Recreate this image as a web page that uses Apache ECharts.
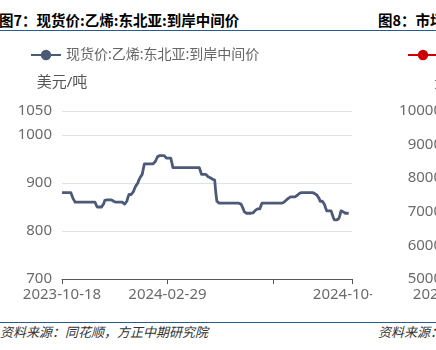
<!DOCTYPE html>
<html>
<head>
<meta charset="utf-8">
<script src="https://cdn.jsdelivr.net/npm/echarts@6/dist/echarts.min.js"></script>
<style>
  html, body { margin: 0; padding: 0; width: 436px; height: 350px; overflow: hidden; background: #fff; }
  #wrap { position: relative; width: 436px; height: 350px; overflow: hidden; font-family: "Noto Sans CJK SC", "Noto Sans", sans-serif; }
  .title { position: absolute; top: 11px; font-size: 14.5px; line-height: 18px; font-weight: bold; color: #000; white-space: nowrap; }
  .rule { position: absolute; left: 0; width: 436px; height: 0; border-top: 1.5px solid #2a5a8c; }
  .src { position: absolute; top: 323px; font-size: 13px; line-height: 18px; font-style: italic; color: #333; white-space: nowrap; }
  #c1 { position: absolute; left: 0; top: 0; width: 372px; height: 350px; }
  #c2 { position: absolute; left: 375px; top: 0; width: 440px; height: 350px; }
</style>
</head>
<body>
<div id="wrap">
  <div class="title" style="left:-1px">图7：现货价:乙烯:东北亚:到岸中间价</div>
  <div class="title" style="left:378px">图8：市场价:乙烯:华东地区</div>
  <div class="rule" style="top:30px"></div>
  <div class="rule" style="top:322px"></div>
  <div class="src" style="left:0px">资料来源：同花顺，方正中期研究院</div>
  <div class="src" style="left:378px">资料来源：同花顺，方正中期研究院</div>
  <div id="c1"></div>
  <div id="c2"></div>
</div>
<script>
// ---- Data (chart 7) ----
const seriesName = '现货价:乙烯:东北亚:到岸中间价';
const yAxisName = '美元/吨';
const yMin = 700, yMax = 1050, yInterval = 100;
// weekday dates from 2023-10-18 (265 trading days)
const startDate = '2023-10-18';
const dayCount = 265;
const labelIndices = [0, 96, 264];
const tickIndices = [0, 96, 192, 264];
const prices = [
  880,880,880,880,880,880,880,880,880,874,
  868,865,860,860,860,860,860,860,860,860,
  860,860,860,860,860,860,860,860,860,860,
  860,856,850,850,850,850,850,850,857,864,
  865,865,865,865,865,865,865,862,860,860,
  860,860,860,860,860,860,858,856,855,862,
  870,876,876,876,876,882,888,893,897,900,
  906,911,915,918,921,940,940,940,940,940,
  940,940,940,940,940,945,950,955,957,957,
  957,957,957,957,955,952,952,952,952,952,
  952,932,932,932,932,932,932,932,932,932,
  932,932,932,932,932,932,932,932,932,932,
  932,932,932,932,932,932,925,918,918,918,
  918,918,915,913,912,911,910,908,906,906,
  880,862,862,858,858,858,858,858,858,858,
  858,858,858,858,858,858,858,858,858,858,
  858,858,858,856,852,846,840,837,837,837,
  837,837,837,837,838,840,843,846,846,846,
  846,846,858,858,858,858,858,858,858,858,
  858,858,858,858,858,858,858,858,858,858,
  858,858,860,862,864,866,868,869,871,871,
  871,871,871,871,874,876,878,880,880,880,
  880,880,880,880,880,880,880,880,880,879,
  878,875,875,875,868,862,862,862,862,855,
  848,842,842,842,842,842,835,828,823,823,
  823,823,826,833,842,842,840,837,837,837,
  837,837,null,null,null
];

// ---- Data (chart 8, only its left edge is visible) ----
const series2Name = '市场价:乙烯:华东地区';
const y2AxisName = '元/吨';
const y2Min = 5000, y2Max = 10000, y2Interval = 1000;
const dates2 = ['2021-10-18', '2022-06-01', '2023-02-01', '2023-10-01', '2024-06-01'];

function weekdayDates(start, n) {
  const out = [];
  const d = new Date(start + 'T00:00:00Z');
  while (out.length < n) {
    const wd = d.getUTCDay();
    if (wd !== 0 && wd !== 6) out.push(d.toISOString().slice(0, 10));
    d.setUTCDate(d.getUTCDate() + 1);
  }
  return out;
}
const dates = weekdayDates(startDate, dayCount);

const FONT = '"Noto Sans", "Noto Sans CJK SC", sans-serif';
const lineColor = '#4c5a78';
const red = '#cc0000';
const plain = (v) => String(v);

const c1 = echarts.init(document.getElementById('c1'), null, { renderer: 'canvas' });
c1.setOption({
  animation: false,
  legend: {
    left: 25, top: 43, itemWidth: 30, itemHeight: 13, itemGap: 10,
    textStyle: { color: '#666', fontSize: 14, fontFamily: FONT },
    data: [seriesName]
  },
  grid: { left: 62, right: 20, top: 111, bottom: 71, containLabel: false, outerBoundsMode: 'none' },
  xAxis: {
    type: 'category', data: dates, boundaryGap: false,
    axisLine: { lineStyle: { color: '#555', width: 1 } },
    axisTick: { show: true, length: 5, lineStyle: { color: '#555' }, interval: (i) => tickIndices.includes(i) },
    axisLabel: { color: '#6b6b6b', fontSize: 15, fontFamily: FONT, margin: 8, interval: (i) => labelIndices.includes(i), showMinLabel: true, showMaxLabel: true },
    splitLine: { show: false }
  },
  yAxis: {
    type: 'value', min: yMin, max: yMax, interval: yInterval,
    name: yAxisName, nameLocation: 'end', nameGap: 21,
    nameTextStyle: { color: '#555', fontSize: 15, fontFamily: FONT, align: 'center' },
    axisLine: { show: false }, axisTick: { show: false },
    axisLabel: { color: '#6b6b6b', fontSize: 15, fontFamily: FONT, margin: 10, formatter: plain },
    splitLine: { lineStyle: { color: '#dde2ec', width: 1.2 } }
  },
  series: [{
    name: seriesName, type: 'line', data: prices,
    symbol: 'circle', symbolSize: 10, showSymbol: false,
    lineStyle: { color: lineColor, width: 2.8, join: 'round' },
    itemStyle: { color: lineColor },
    connectNulls: false
  }]
});

const c2 = echarts.init(document.getElementById('c2'), null, { renderer: 'canvas' });
c2.setOption({
  animation: false,
  legend: {
    left: 27, top: 43, itemWidth: 30, itemHeight: 13,
    textStyle: { color: '#666', fontSize: 14, fontFamily: FONT },
    data: [series2Name]
  },
  grid: { left: 77, right: 20, top: 111, bottom: 71, containLabel: false, outerBoundsMode: 'none' },
  xAxis: {
    type: 'category', data: dates2, boundaryGap: false,
    axisLine: { lineStyle: { color: '#555' } },
    axisTick: { length: 5 },
    axisLabel: { color: '#6b6b6b', fontSize: 15, fontFamily: FONT, margin: 8 }
  },
  yAxis: {
    type: 'value', min: y2Min, max: y2Max, interval: y2Interval,
    name: y2AxisName, nameGap: 21,
    nameTextStyle: { color: '#555', fontSize: 15, fontFamily: FONT, align: 'center' },
    axisLine: { show: false }, axisTick: { show: false },
    axisLabel: { color: '#6b6b6b', fontSize: 15, fontFamily: FONT, margin: 10, formatter: plain },
    splitLine: { lineStyle: { color: '#dde2ec' } }
  },
  series: [{
    name: series2Name, type: 'line', data: [],
    symbol: 'circle', symbolSize: 10, showSymbol: false,
    lineStyle: { color: red, width: 2.8 }, itemStyle: { color: red }
  }]
});
</script>
</body>
</html>
